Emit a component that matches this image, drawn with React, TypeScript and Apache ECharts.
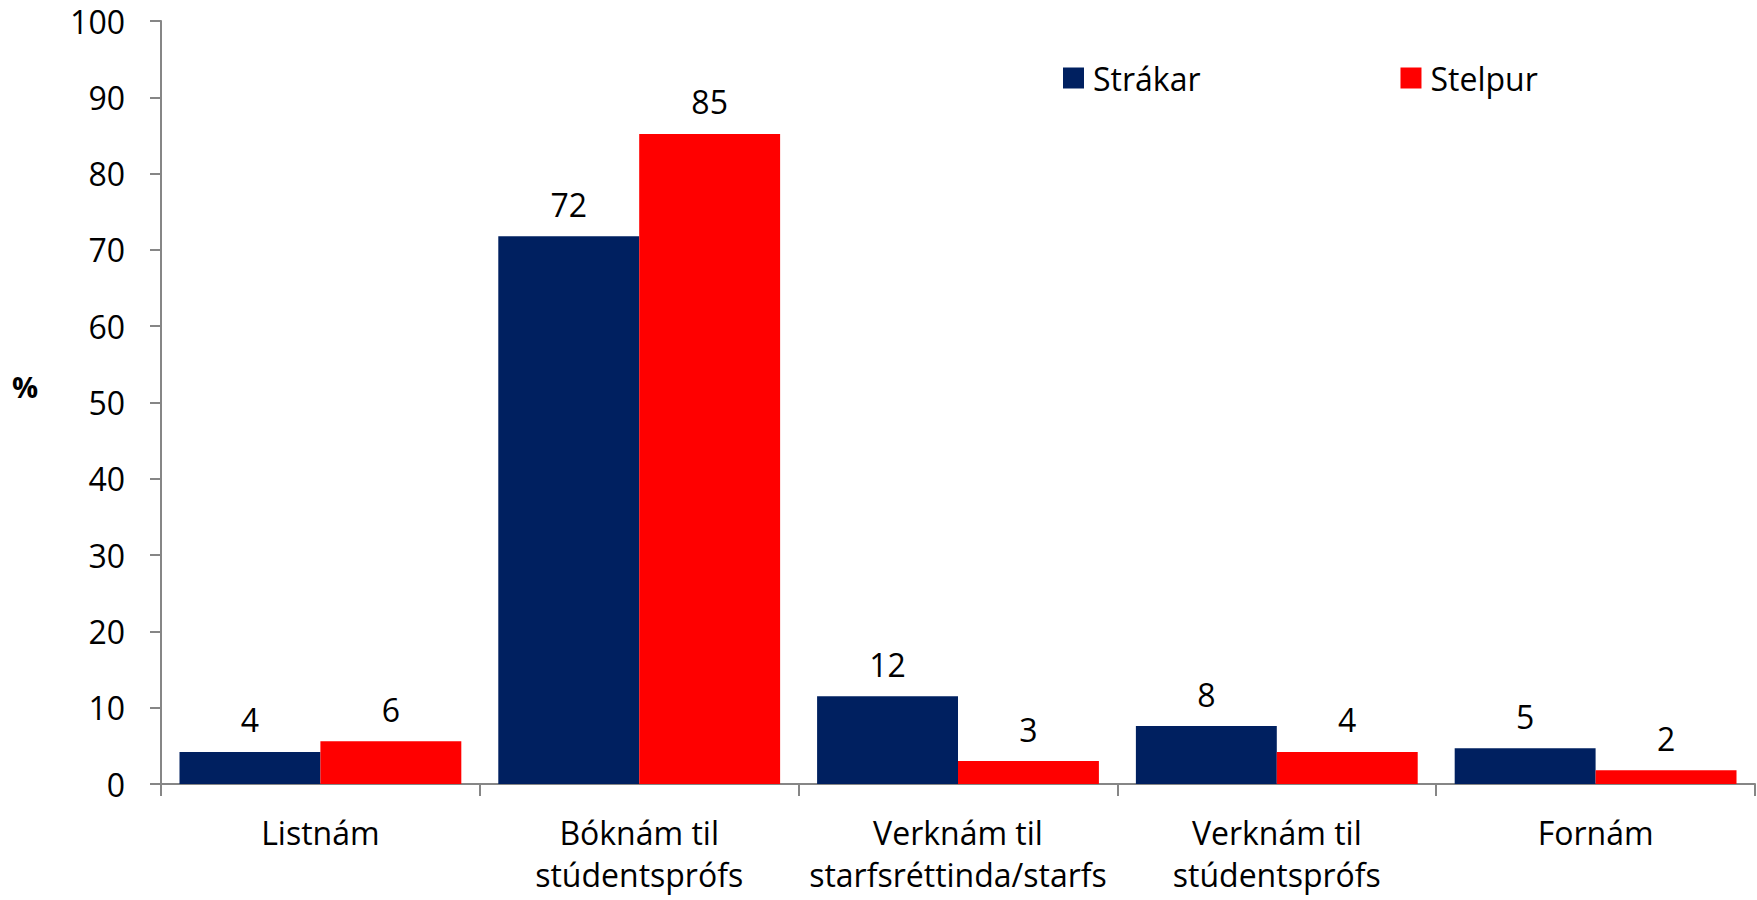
import React, { useEffect, useRef } from "react";
import * as echarts from "echarts";

const categories = [
  "Listnám",
  "Bóknám til\nstúdentsprófs",
  "Verknám til\nstarfsréttinda/starfs",
  "Verknám til\nstúdentsprófs",
  "Fornám",
];
const seriesNames = ["Strákar", "Stelpur"];
const strakar = [4.2, 71.8, 11.5, 7.6, 4.7];
const stelpur = [5.6, 85.2, 3.0, 4.2, 1.8];
const yTicks = { min: 0, max: 100, interval: 10 };
const yAxisTitle = "%";

const FONT = "'Open Sans', sans-serif";

export default function App() {
  const ref = useRef<HTMLDivElement>(null);
  useEffect(() => {
    document.body.style.margin = "0";
    const chart = echarts.init(ref.current!, null, { renderer: "svg" });
    const labelCommon = {
      show: true,
      position: "top",
      distance: 16,
      fontFamily: FONT,
      fontSize: 32,
      color: "#000",
      formatter: (p: any) => String(Math.round(p.value)),
    };
    chart.setOption({
      animation: false,
      textStyle: { fontFamily: FONT },
      grid: { left: 161, right: 2, top: 21, bottom: 116, containLabel: false },
      legend: {
        data: seriesNames,
        left: 1058,
        top: 57,
        icon: "rect",
        itemWidth: 21,
        itemHeight: 21,
        itemGap: 200,
        textStyle: { fontFamily: FONT, fontSize: 32, color: "#000", padding: [0, 0, 0, 4] },
      },
      graphic: [
        {
          type: "text",
          left: 12,
          top: 372,
          style: { text: yAxisTitle, font: `bold 29px ${FONT}`, fill: "#000" },
        },
      ],
      xAxis: {
        type: "category",
        data: categories,
        boundaryGap: true,
        axisLine: { lineStyle: { color: "#868686", width: 2 } },
        axisTick: { show: true, alignWithLabel: false, length: 12, lineStyle: { color: "#868686", width: 2 } },
        axisLabel: {
          interval: 0,
          margin: 27,
          fontFamily: FONT,
          fontSize: 32,
          lineHeight: 42,
          color: "#000",
        },
      },
      yAxis: {
        type: "value",
        min: yTicks.min,
        max: yTicks.max,
        interval: yTicks.interval,
        splitLine: { show: false },
        axisLine: { show: true, lineStyle: { color: "#868686", width: 2 } },
        axisTick: { show: true, length: 11, lineStyle: { color: "#868686", width: 2 } },
        axisLabel: { margin: 36, fontFamily: FONT, fontSize: 32, color: "#000" },
      },
      series: [
        {
          name: seriesNames[0],
          type: "bar",
          data: strakar,
          barGap: "0%",
          barCategoryGap: "11.6%",
          itemStyle: { color: "#002060" },
          label: labelCommon,
        },
        {
          name: seriesNames[1],
          type: "bar",
          data: stelpur,
          barGap: "0%",
          barCategoryGap: "11.6%",
          itemStyle: { color: "#FF0000" },
          label: labelCommon,
        },
      ],
    });
    return () => chart.dispose();
  }, []);
  return <div ref={ref} style={{ width: 1757, height: 900 }} />;
}
